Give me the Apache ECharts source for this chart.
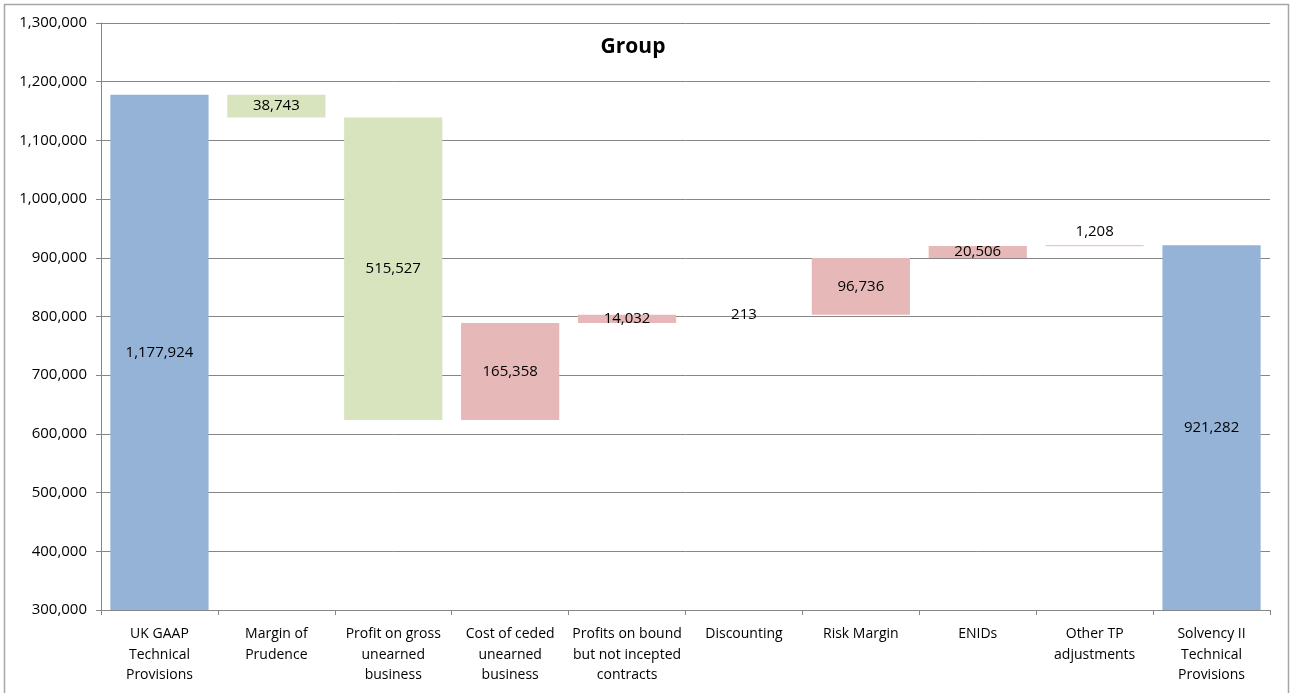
<!DOCTYPE html>
<html>
<head>
<meta charset="utf-8">
<script src="https://cdn.jsdelivr.net/npm/echarts@6/dist/echarts.min.js"></script>
<style>
html,body{margin:0;padding:0;background:#fff;}
#chart{width:1290px;height:693px;}
</style>
</head>
<body>
<div id="chart"></div>
<script>
const titleText = 'Group';
const categories = [
  'UK GAAP\nTechnical\nProvisions',
  'Margin of\nPrudence',
  'Profit on gross\nunearned\nbusiness',
  'Cost of ceded\nunearned\nbusiness',
  'Profits on bound\nbut not incepted\ncontracts',
  'Discounting',
  'Risk Margin',
  'ENIDs',
  'Other TP\nadjustments',
  'Solvency II\nTechnical\nProvisions'
];
// signed movements; totals are absolute values
const movements = [1177924, -38743, -515527, 165358, 14032, -213, 96736, 20506, 1208, 921282];
const kinds = ['total', 'dec', 'dec', 'inc', 'inc', 'dec', 'inc', 'inc', 'inc', 'total'];
const yTicks = [300000, 1300000, 100000]; // min, max, interval

const colors = { total: '#95B3D7', dec: '#D7E4BD', inc: '#E6B9B8' };

const baseData = [];
const barData = [];
let running = 0;
movements.forEach((v, i) => {
  const k = kinds[i];
  if (k === 'total') {
    baseData.push(0);
    barData.push({ value: v, itemStyle: { color: colors.total } });
    running = v;
  } else {
    const next = running + v;
    const lo = Math.min(running, next);
    baseData.push(lo);
    const item = { value: Math.abs(v), itemStyle: { color: colors[k] } };
    if (i === 8) {
      item.label = { position: 'top', distance: 6 };
      item.itemStyle.borderColor = colors[k];
      item.itemStyle.borderWidth = 0.6;
    }
    barData.push(item);
    running = next;
  }
});

const fmt = n => n.toLocaleString('en-US');
const axisColor = '#868686';
const font = '"Open Sans", "Liberation Sans", sans-serif';

const chart = echarts.init(document.getElementById('chart'));
chart.setOption({
  animation: false,
  backgroundColor: '#fff',
  title: {
    text: titleText,
    left: 628, top: 32, textAlign: 'center',
    textStyle: { fontFamily: font, fontSize: 21, fontWeight: 'bold', color: '#000' }
  },
  graphic: [{
    type: 'rect', silent: true, z: -1,
    shape: { x: 4.5, y: 4.5, width: 1284, height: 700 },
    style: { fill: 'none', stroke: '#a6a6a6', lineWidth: 1.5 }
  }],
  grid: { left: 101, right: 20, top: 23, bottom: 83 },
  xAxis: {
    type: 'category',
    data: categories,
    axisLine: { lineStyle: { color: axisColor } },
    axisTick: { show: true, alignWithLabel: false, length: 5, lineStyle: { color: axisColor } },
    axisLabel: {
      interval: 0, color: '#000', fontFamily: font, fontSize: 14, lineHeight: 20.5, margin: 14
    }
  },
  yAxis: {
    type: 'value',
    min: yTicks[0], max: yTicks[1], interval: yTicks[2],
    axisLine: { show: true, lineStyle: { color: axisColor } },
    axisTick: { show: true, length: 5, lineStyle: { color: axisColor } },
    splitLine: { lineStyle: { color: axisColor, width: 1 } },
    axisLabel: {
      color: '#000', fontFamily: font, fontSize: 15, margin: 14,
      formatter: v => fmt(v)
    }
  },
  series: [
    {
      type: 'bar', stack: 'w', data: baseData,
      itemStyle: { color: 'transparent' }, silent: true,
      barCategoryGap: '16%'
    },
    {
      type: 'bar', stack: 'w', data: barData,
      barCategoryGap: '16%',
      label: {
        show: true, position: 'inside', color: '#000',
        fontFamily: font, fontSize: 15,
        formatter: p => fmt(Math.abs(movements[p.dataIndex]))
      }
    }
  ]
});
</script>
</body>
</html>
